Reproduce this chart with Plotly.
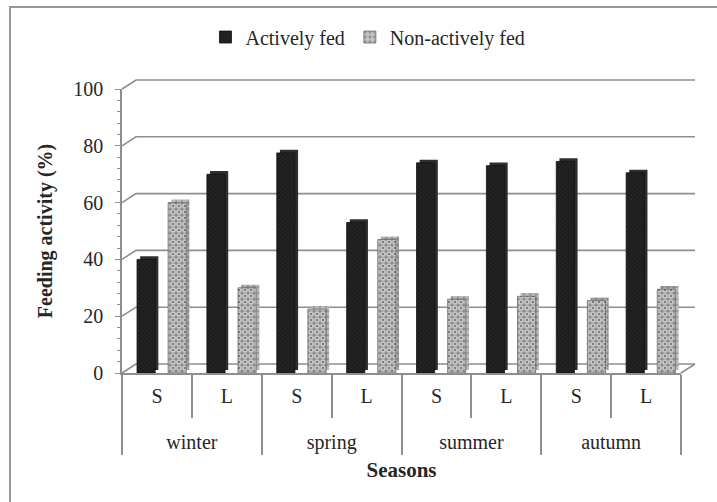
import plotly.graph_objects as go

# Feeding activity by season and size class
seasons = ["winter", "spring", "summer", "autumn"]
size_classes = ["S", "L"]
actively_fed = [40, 70, 77.5, 53, 74, 73, 74.5, 70.5]
non_actively_fed = [60, 30, 22.5, 47, 26, 27, 25.5, 29.5]
y_ticks = [0, 20, 40, 60, 80, 100]

# primary labels get a blank second line so the two label rows sit further apart
x_cats = [[s for s in seasons for _ in size_classes],
          [c + "<br>\u00a0" for _ in seasons for c in size_classes]]

FONT = "Liberation Serif"
GRID = "#8e8e8e"
TXT = "#262626"

# plot area geometry (pixels) used for the pseudo-3D wall
L, R, T, B = 122, 36, 89, 129
W, H = 717, 502
PW, PH = W - L - R, H - T - B
DX, DY = 14 / PW, 9 / PH  # depth offset of the back wall

ACT_OFF, NON_OFF, BAR_W, SIDE = -0.285, 0.16, 0.26, 0.045

fig = go.Figure()

# depth faces (drawn first, peeking out right/top of the front faces)
fig.add_trace(go.Bar(
    x=x_cats, y=actively_fed, base=1.1, offset=ACT_OFF + SIDE, width=BAR_W,
    marker=dict(color="#2e2e2e", line=dict(width=0)),
    showlegend=False, hoverinfo="skip"))
fig.add_trace(go.Bar(
    x=x_cats, y=non_actively_fed, base=1.1, offset=NON_OFF + SIDE, width=BAR_W,
    marker=dict(color="#9c9c9c", line=dict(width=0),
                pattern=dict(shape=".", fgcolor="#e6e6e6", bgcolor="#8c8c8c",
                             size=6, solidity=0.6)),
    showlegend=False, hoverinfo="skip"))

# front faces
fig.add_trace(go.Bar(
    name="Actively fed", x=x_cats, y=actively_fed, offset=ACT_OFF, width=BAR_W,
    marker=dict(color="#1c1c1c", line=dict(color="#111111", width=0.8),
                pattern=dict(shape="x", fgcolor="#4d4d4d", bgcolor="#1c1c1c",
                             size=3, solidity=0.25))))
fig.add_trace(go.Bar(
    name="Non-actively fed", x=x_cats, y=non_actively_fed, offset=NON_OFF, width=BAR_W,
    marker=dict(color="#8a8a8a", line=dict(color="#6e6e6e", width=0.8),
                pattern=dict(shape=".", fgcolor="#ffffff", bgcolor="#8a8a8a",
                             size=6, solidity=0.72))))
fig.add_trace(go.Bar(
    x=x_cats, y=non_actively_fed, offset=NON_OFF, width=BAR_W,
    marker=dict(color="rgba(0,0,0,0)", line=dict(width=0),
                pattern=dict(shape=".", fgcolor="#000000", bgcolor="rgba(0,0,0,0)",
                             size=6, solidity=0.08)),
    showlegend=False, hoverinfo="skip"))

# back wall gridlines with their slanted returns to the front axis
shapes = []
for v in y_ticks:
    yp = v / 100
    shapes.append(dict(type="path", xref="paper", yref="paper",
                       path=f"M 0,{yp} L {DX},{yp + DY} L {1 + DX},{yp + DY}",
                       line=dict(color=GRID, width=1.6), layer="below"))
# right edge of the floor
shapes.append(dict(type="line", xref="paper", yref="paper",
                   x0=1, y0=0, x1=1 + DX, y1=DY,
                   line=dict(color=GRID, width=1.6), layer="below"))
# chart frame
bx0 = (10 - L) / PW
by0 = (H - B - 7) / PH
shapes.append(dict(type="path", xref="paper", yref="paper",
                   path=f"M {bx0},-0.6 L {bx0},{by0} L 1.2,{by0}",
                   line=dict(color="#9a9a9a", width=2)))

fig.update_layout(
    width=W, height=H,
    margin=dict(l=L, r=R, t=T, b=B),
    barmode="overlay",
    paper_bgcolor="white", plot_bgcolor="rgba(0,0,0,0)",
    font=dict(family=FONT, size=20, color=TXT),
    shapes=shapes,
    legend=dict(orientation="h", x=0.44, xanchor="center", y=1.183, yanchor="middle",
                font=dict(family=FONT, size=20, color=TXT),
                itemwidth=30, traceorder="normal"),
    xaxis=dict(type="multicategory", showline=True, linecolor=GRID, linewidth=1.6,
               ticks="outside", tickson="boundaries", ticklen=43, tickcolor=GRID,
               tickwidth=1.6, showgrid=False, showdividers=True,
               dividercolor=GRID, dividerwidth=1.6, ticklabelstandoff=4,
               tickfont=dict(family=FONT, size=20, color=TXT),
               title=dict(text="<b>Seasons</b>", font=dict(family=FONT, size=21, color=TXT),
                          standoff=10)),
    yaxis=dict(range=[0, 100], tickvals=y_ticks, showline=True, linecolor=GRID,
               linewidth=1.6, ticks="outside", ticklen=5, tickcolor=GRID, tickwidth=1.4,
               minor=dict(dtick=4, ticks="outside", ticklen=3, tickcolor=GRID, tickwidth=1),
               showgrid=False, zeroline=False, ticklabelstandoff=8,
               tickfont=dict(family=FONT, size=20, color=TXT),
               title=dict(text="<b>Feeding activity (%)</b>",
                          font=dict(family=FONT, size=20, color=TXT), standoff=15)),
)

fig.write_html("out.html")
